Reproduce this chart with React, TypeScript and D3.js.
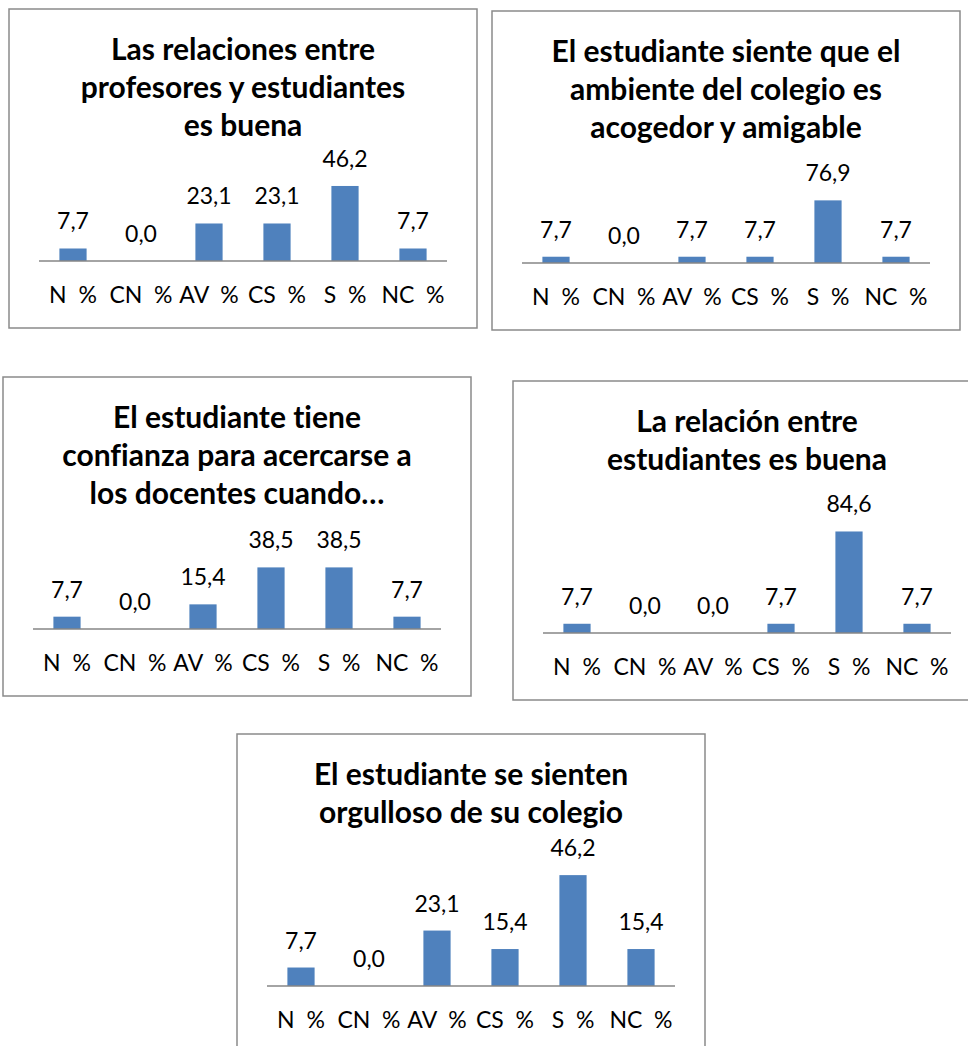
import React from "react";
import * as d3 from "d3";

// ---- Data ----
const categories = ["N  %", "CN  %", "AV  %", "CS  %", "S  %", "NC  %"];

const titleRelProfEst = ["Las relaciones entre", "profesores y estudiantes", "es buena"];
const valuesRelProfEst = [7.7, 0.0, 23.1, 23.1, 46.2, 7.7];

const titleAmbiente = ["El estudiante siente que el", "ambiente del colegio es", "acogedor y amigable"];
const valuesAmbiente = [7.7, 0.0, 7.7, 7.7, 76.9, 7.7];

const titleConfianza = ["El estudiante tiene", "confianza para acercarse a", "los docentes cuando…"];
const valuesConfianza = [7.7, 0.0, 15.4, 38.5, 38.5, 7.7];

const titleRelEst = ["La relación entre", "estudiantes es buena"];
const valuesRelEst = [7.7, 0.0, 0.0, 7.7, 84.6, 7.7];

const titleOrgullo = ["El estudiante se sienten", "orgulloso de su colegio"];
const valuesOrgullo = [7.7, 0.0, 23.1, 15.4, 46.2, 15.4];

// axis maxima (value scale) per chart
const axisMaxRelProfEst = 50;
const axisMaxAmbiente = 90;
const axisMaxConfianza = 45;
const axisMaxRelEst = 90;
const axisMaxOrgullo = 50;

// ---- Layout ----
const W = 968;
const H = 1046;
const BOX_W = 468;
const BOX_H = 319;
const AXIS_Y = 252;
const AXIS_X0 = 30;
const AXIS_X1 = 438;
const BAR_COLOR = "#4F81BD";
const FONT = "Lato, 'Open Sans', sans-serif";

const fmt = (v: number) => v.toFixed(1).replace(".", ",");

type PanelProps = {
  x: number;
  y: number;
  title: string[];
  values: number[];
  axisMax: number;
  plotH: number;
};

function Panel({ x, y, title, values, axisMax, plotH }: PanelProps) {
  const xScale = d3
    .scaleBand<string>()
    .domain(categories)
    .range([AXIS_X0, AXIS_X1])
    .paddingInner(0)
    .paddingOuter(0);
  const yScale = d3.scaleLinear().domain([0, axisMax]).range([AXIS_Y, AXIS_Y - plotH]);
  const step = xScale.step();
  const barW = step * 0.4;
  return (
    <g transform={`translate(${x},${y})`}>
      <rect x={0} y={0} width={BOX_W} height={BOX_H} fill="#fff" stroke="#8a8a8a" strokeWidth={1.5} />
      {title.map((t, i) => (
        <text
          key={i}
          x={BOX_W / 2}
          y={51 + i * 38}
          textAnchor="middle"
          fontFamily={FONT}
          fontWeight="bold"
          fontSize={30}
          fill="#000"
          style={{ fontVariantLigatures: "none" }}
        >
          {t}
        </text>
      ))}
      {values.map((v, i) => {
        const cx = (xScale(categories[i]) as number) + step / 2;
        const top = yScale(v);
        return (
          <g key={i}>
            {v > 0 && (
              <rect x={cx - barW / 2} y={top} width={barW} height={AXIS_Y - top} fill={BAR_COLOR} />
            )}
            <text
              x={cx}
              y={top - 19}
              textAnchor="middle"
              fontFamily={FONT}
              fontSize={23}
              fill="#000"
            >
              {fmt(v)}
            </text>
          </g>
        );
      })}
      <line x1={AXIS_X0} x2={AXIS_X1} y1={AXIS_Y} y2={AXIS_Y} stroke="#868686" strokeWidth={1.5} />
      {categories.map((c, i) => (
        <text
          key={c}
          x={(xScale(c) as number) + step / 2}
          y={AXIS_Y + 41.5}
          textAnchor="middle"
          fontFamily={FONT}
          fontSize={23}
          fill="#000"
          style={{ whiteSpace: "pre" }}
        >
          {c}
        </text>
      ))}
    </g>
  );
}

export default function App() {
  return (
    <svg
      width={W}
      height={H}
      style={{ position: "absolute", left: 0, top: 0, background: "#fff" }}
    >
      <rect x={0} y={0} width={W} height={H} fill="#fff" />
      <Panel x={9} y={9} title={titleRelProfEst} values={valuesRelProfEst} axisMax={axisMaxRelProfEst} plotH={81.2} />
      <Panel x={492} y={11} title={titleAmbiente} values={valuesAmbiente} axisMax={axisMaxAmbiente} plotH={73.3} />
      <Panel x={3} y={377} title={titleConfianza} values={valuesConfianza} axisMax={axisMaxConfianza} plotH={72} />
      <Panel x={513} y={381} title={titleRelEst} values={valuesRelEst} axisMax={axisMaxRelEst} plotH={108} />
      <Panel x={237} y={734} title={titleOrgullo} values={valuesOrgullo} axisMax={axisMaxOrgullo} plotH={120} />
    </svg>
  );
}
